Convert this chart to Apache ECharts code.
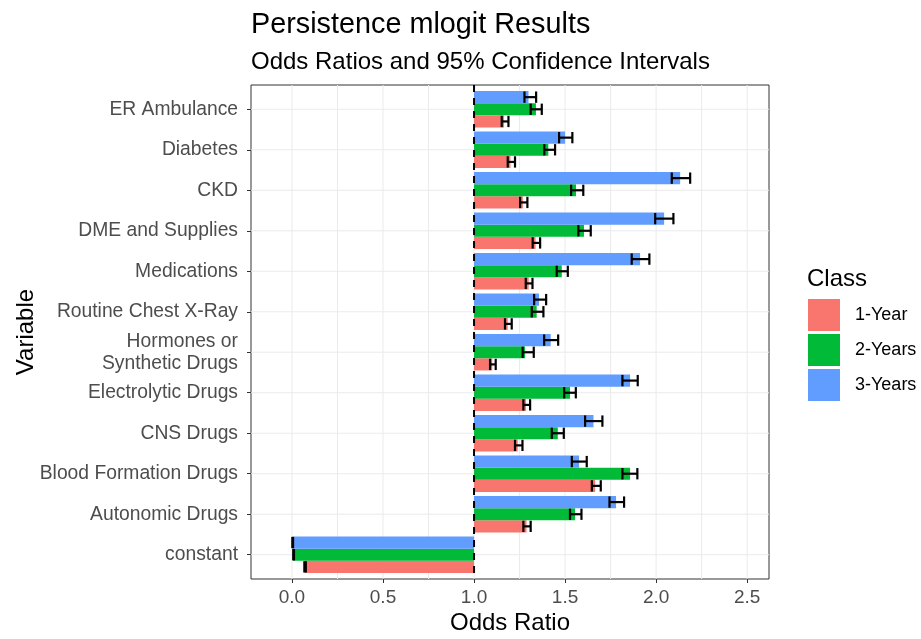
<!DOCTYPE html>
<html>
<head>
<meta charset="utf-8">
<title>Persistence mlogit Results</title>
<script src="https://cdn.jsdelivr.net/npm/echarts@6/dist/echarts.min.js"></script>
<style>
  html, body { margin: 0; padding: 0; background: #fff; }
  #chart { width: 921px; height: 639px; }
</style>
</head>
<body>
<div id="chart"></div>
<script>
(function() {
  'use strict';

  var categories = ['ER Ambulance', 'Diabetes', 'CKD', 'DME and Supplies', 'Medications',
    'Routine Chest X-Ray', 'Hormones or\nSynthetic Drugs', 'Electrolytic Drugs', 'CNS Drugs',
    'Blood Formation Drugs', 'Autonomic Drugs', 'constant'];
  var classes = ['1-Year', '2-Years', '3-Years'];
  var colors = ['#F8766D', '#00BA38', '#619CFF'];

  // odds ratio, lower and upper 95% CI, one array each per class
  var or1 = [1.165, 1.200, 1.268, 1.338, 1.300, 1.185, 1.100, 1.285, 1.240, 1.665, 1.288, 0.072];
  var lo1 = [1.152, 1.185, 1.253, 1.322, 1.284, 1.170, 1.088, 1.271, 1.225, 1.647, 1.271, 0.068];
  var hi1 = [1.189, 1.225, 1.293, 1.363, 1.321, 1.207, 1.119, 1.308, 1.266, 1.696, 1.311, 0.076];

  var or2 = [1.340, 1.408, 1.560, 1.604, 1.482, 1.344, 1.280, 1.527, 1.460, 1.857, 1.555, 0.009];
  var lo2 = [1.311, 1.386, 1.533, 1.573, 1.454, 1.317, 1.267, 1.495, 1.427, 1.815, 1.527, 0.007];
  var hi2 = [1.372, 1.445, 1.600, 1.641, 1.515, 1.381, 1.328, 1.559, 1.493, 1.897, 1.590, 0.011];

  var or3 = [1.299, 1.500, 2.132, 2.044, 1.912, 1.357, 1.421, 1.857, 1.656, 1.577, 1.780, 0.004];
  var lo3 = [1.277, 1.467, 2.086, 1.995, 1.866, 1.330, 1.385, 1.815, 1.610, 1.537, 1.744, 0.002];
  var hi3 = [1.341, 1.540, 2.187, 2.095, 1.963, 1.396, 1.462, 1.899, 1.705, 1.619, 1.824, 0.006];

  var xTicks = [0, 0.5, 1, 1.5, 2, 2.5];
  var xMinor = [0.25, 0.75, 1.25, 1.75, 2.25];
  var refLine = 1;

  var font = '"Liberation Sans", Arial, Helvetica, sans-serif';

  function positions() {
    var out = [];
    for (var i = 0; i < categories.length; i++) {
      out.push(i + 1);
    }
    return out;
  }

  function rows(or, lo, hi) {
    var out = [];
    for (var i = 0; i < categories.length; i++) {
      out.push([i + 1, or[i], lo[i], hi[i]]);
    }
    return out;
  }

  // bar from the reference line to the odds ratio, plus the CI whiskers
  function barRenderer(offset) {
    return function(params, api) {
      var pos = api.value(0);
      var base = api.coord([refLine, pos]);
      var end = api.coord([api.value(1), pos]);
      var lo = api.coord([api.value(2), pos]);
      var hi = api.coord([api.value(3), pos]);
      var band = api.size([0, 1])[1];
      var cy = base[1] + offset * band;
      var h = band * 0.3;
      var w = band * 0.28;
      var line = { stroke: '#000', lineWidth: 2.2 };
      return {
        type: 'group',
        children: [
          { type: 'rect', shape: { x: Math.min(base[0], end[0]), y: cy - h / 2, width: Math.abs(end[0] - base[0]), height: h },
            style: { fill: api.visual('color') } },
          { type: 'line', shape: { x1: lo[0], y1: cy, x2: hi[0], y2: cy }, style: line },
          { type: 'line', shape: { x1: lo[0], y1: cy - w / 2, x2: lo[0], y2: cy + w / 2 }, style: line },
          { type: 'line', shape: { x1: hi[0], y1: cy - w / 2, x2: hi[0], y2: cy + w / 2 }, style: line }
        ]
      };
    };
  }

  function vLine(width, color, dash) {
    return function(params, api) {
      var cs = params.coordSys;
      var x = api.coord([api.value(0), 1])[0];
      return { type: 'line', shape: { x1: x, y1: cs.y, x2: x, y2: cs.y + cs.height },
        style: { stroke: color, lineWidth: width, lineDash: dash || null } };
    };
  }

  function hLine(params, api) {
    var cs = params.coordSys;
    var y = api.coord([0, api.value(1)])[1];
    return { type: 'line', shape: { x1: cs.x, y1: y, x2: cs.x + cs.width, y2: y },
      style: { stroke: '#ebebeb', lineWidth: 1 } };
  }

  var myChart = echarts.init(document.getElementById('chart'), null, { renderer: 'canvas' });

  var option = {
    animation: false,
    backgroundColor: '#fff',
    color: colors,
    textStyle: { fontFamily: font },
    title: [
      { text: 'Persistence mlogit Results', left: 251, top: 11, padding: 0,
        textStyle: { fontSize: 28.8, fontWeight: 'normal', color: '#000', fontFamily: font } },
      { text: 'Odds Ratios and 95% Confidence Intervals', left: 251, top: 50, padding: 0,
        textStyle: { fontSize: 24, fontWeight: 'normal', color: '#000', fontFamily: font } },
      { text: 'Class', left: 807, top: 267, padding: 0,
        textStyle: { fontSize: 24, fontWeight: 'normal', color: '#000', fontFamily: font } }
    ],
    legend: {
      data: classes,
      orient: 'vertical',
      left: 808,
      top: 299,
      padding: 0,
      icon: 'rect',
      itemWidth: 32,
      itemHeight: 32,
      itemGap: 3,
      selectedMode: false,
      textStyle: { fontSize: 18, color: '#000', fontFamily: font, padding: [0, 0, 0, 10] }
    },
    grid: {
      left: 251, top: 85, right: 152, bottom: 60,
      outerBoundsMode: 'none',
      show: true, borderColor: '#333', borderWidth: 1, backgroundColor: 'transparent'
    },
    xAxis: {
      type: 'value',
      min: -0.225,
      max: 2.62,
      name: 'Odds Ratio',
      nameLocation: 'middle',
      nameGap: 32,
      nameMoveOverlap: false,
      nameTextStyle: { fontSize: 24, color: '#000', fontFamily: font },
      axisLine: { show: false, onZero: false },
      splitLine: { show: false },
      axisTick: { show: true, customValues: xTicks, length: 4, lineStyle: { color: '#333' } },
      axisLabel: {
        customValues: xTicks,
        margin: 9,
        fontSize: 19,
        color: '#4d4d4d',
        formatter: function(v) { return v.toFixed(1); }
      }
    },
    yAxis: {
      type: 'value',
      inverse: true,
      min: 0.4,
      max: categories.length + 0.6,
      name: 'Variable',
      nameLocation: 'middle',
      nameRotate: 90,
      nameGap: 213,
      nameMoveOverlap: false,
      nameTextStyle: { fontSize: 24, color: '#000', fontFamily: font },
      axisLine: { show: false, onZero: false },
      splitLine: { show: false },
      axisTick: { show: true, customValues: positions(), length: 4, lineStyle: { color: '#333' } },
      axisLabel: {
        customValues: positions(),
        margin: 13,
        fontSize: 19.3,
        lineHeight: 22,
        color: '#4d4d4d',
        formatter: function(v) { return categories[Math.round(v) - 1] || ''; }
      }
    },
    series: [
      { type: 'custom', name: 'gridX', silent: true, z: 1, renderItem: vLine(1, '#ebebeb'),
        data: xTicks.concat(xMinor).map(function(v) { return [v, 1]; }), encode: { x: 0, y: 1 } },
      { type: 'custom', name: 'gridY', silent: true, z: 1, renderItem: hLine,
        data: positions().map(function(p) { return [1, p]; }), encode: { x: 0, y: 1 } },
      { type: 'custom', name: classes[0], z: 2, itemStyle: { color: colors[0] }, renderItem: barRenderer(0.3),
        data: rows(or1, lo1, hi1), encode: { x: [1, 2, 3], y: 0 } },
      { type: 'custom', name: classes[1], z: 2, itemStyle: { color: colors[1] }, renderItem: barRenderer(0),
        data: rows(or2, lo2, hi2), encode: { x: [1, 2, 3], y: 0 } },
      { type: 'custom', name: classes[2], z: 2, itemStyle: { color: colors[2] }, renderItem: barRenderer(-0.3),
        data: rows(or3, lo3, hi3), encode: { x: [1, 2, 3], y: 0 } },
      { type: 'custom', name: 'ref', silent: true, z: 3, renderItem: vLine(2, '#000', [7, 6]),
        data: [[refLine, 1]], encode: { x: 0, y: 1 } }
    ]
  };

  myChart.setOption(option);
}());
</script>
</body>
</html>
